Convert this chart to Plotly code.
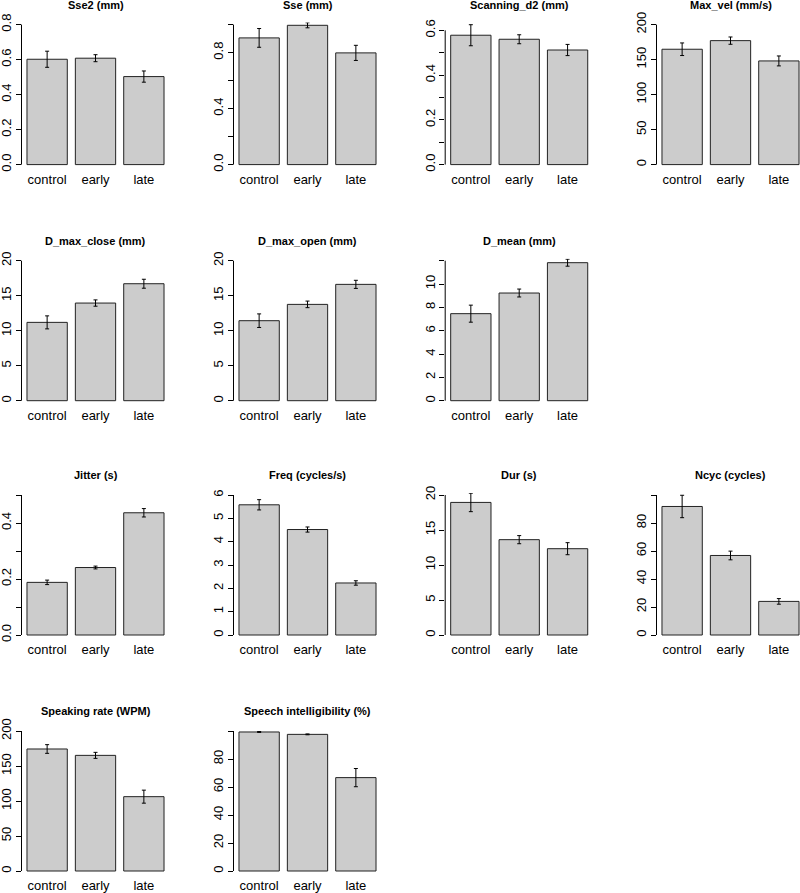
import plotly.graph_objects as go

groups = ["control", "early", "late"]

# --- data (means and standard errors) ---
sse2_mean = [0.602, 0.608, 0.503]
sse2_se = [0.046, 0.020, 0.032]
sse_mean = [0.905, 0.995, 0.798]
sse_se = [0.067, 0.018, 0.054]
scan_mean = [0.578, 0.560, 0.512]
scan_se = [0.047, 0.020, 0.025]
maxvel_mean = [164.8, 177.1, 148.1]
maxvel_se = [9.0, 5.2, 7.1]
dmaxclose_mean = [11.19, 13.95, 16.71]
dmaxclose_se = [0.93, 0.45, 0.64]
dmaxopen_mean = [11.43, 13.76, 16.62]
dmaxopen_se = [0.97, 0.47, 0.58]
dmean_mean = [7.46, 9.23, 11.83]
dmean_se = [0.73, 0.34, 0.30]
jitter_mean = [0.188, 0.241, 0.4365]
jitter_se = [0.008, 0.005, 0.015]
freq_mean = [5.58, 4.52, 2.23]
freq_se = [0.22, 0.11, 0.095]
dur_mean = [18.94, 13.62, 12.33]
dur_se = [1.32, 0.58, 0.86]
ncyc_mean = [91.8, 56.8, 24.0]
ncyc_se = [8.0, 3.1, 2.0]
rate_mean = [174.3, 165.2, 106.2]
rate_se = [6.2, 4.3, 9.3]
intel_mean = [99.3, 97.6, 66.7]
intel_se = [0.3, 0.3, 6.5]

# titles
titles = ["Sse2 (mm)", "Sse (mm)", "Scanning_d2 (mm)", "Max_vel (mm/s)",
          "D_max_close (mm)", "D_max_open (mm)", "D_mean (mm)",
          "Jitter (s)", "Freq (cycles/s)", "Dur (s)", "Ncyc (cycles)",
          "Speaking rate (WPM)", "Speech intelligibility (%)"]
means = [sse2_mean, sse_mean, scan_mean, maxvel_mean,
         dmaxclose_mean, dmaxopen_mean, dmean_mean,
         jitter_mean, freq_mean, dur_mean, ncyc_mean,
         rate_mean, intel_mean]
ses = [sse2_se, sse_se, scan_se, maxvel_se,
       dmaxclose_se, dmaxopen_se, dmean_se,
       jitter_se, freq_se, dur_se, ncyc_se,
       rate_se, intel_se]
# y ticks and which are labelled
yticks = [[0, 0.2, 0.4, 0.6, 0.8], [0, 0.2, 0.4, 0.6, 0.8, 1.0],
          [0, 0.1, 0.2, 0.3, 0.4, 0.5, 0.6], [0, 50, 100, 150, 200],
          [0, 5, 10, 15, 20], [0, 5, 10, 15, 20], [0, 2, 4, 6, 8, 10, 12],
          [0, 0.1, 0.2, 0.3, 0.4, 0.5], [0, 1, 2, 3, 4, 5, 6],
          [0, 5, 10, 15, 20], [0, 20, 40, 60, 80, 100],
          [0, 50, 100, 150, 200], [0, 20, 40, 60, 80, 100]]
ytext = [["0.0", "0.2", "0.4", "0.6", "0.8"], ["0.0", "", "0.4", "", "0.8", ""],
         ["0.0", "", "0.2", "", "0.4", "", "0.6"], ["0", "50", "100", "150", "200"],
         ["0", "5", "10", "15", "20"], ["0", "5", "10", "15", "20"],
         ["0", "2", "4", "6", "8", "10", ""],
         ["0.0", "", "0.2", "", "0.4", ""], ["0", "1", "2", "3", "4", "5", "6"],
         ["0", "5", "10", "15", "20"], ["0", "20", "40", "60", "80", ""],
         ["0", "50", "100", "150", "200"], ["0", "20", "40", "60", "80", ""]]
# upper y limit of each plot region
ylim_top = [0.8, 1.0, 0.6255, 200, 20, 20, 12, 0.5, 6, 20, 100, 200, 100]

# layout (pixels)
W, H = 800, 893
col_left = [21.5, 233.5, 445.2, 656.5]
row_zero = [164.6, 400.7, 635, 871]
panel_pos = [(0, 0), (0, 1), (0, 2), (0, 3),
             (1, 0), (1, 1), (1, 2),
             (2, 0), (2, 1), (2, 2), (2, 3),
             (3, 0), (3, 1)]
PW = 148.0   # plot region width
PH = 140.0   # plot region height
PAD = 2.0
XR = [-0.53, 2.53]

fig = go.Figure()
layout = {}
shapes = []
annotations = []
for i, (r, c) in enumerate(panel_pos):
    n = i + 1
    xs = "" if n == 1 else str(n)
    x0 = col_left[c]
    y0 = row_zero[r]
    s = PH / ylim_top[i]
    x1 = min(x0 + PW, W)
    xr1 = XR[0] + (x1 - x0) / PW * (XR[1] - XR[0])
    fig.add_trace(go.Bar(
        x=groups, y=means[i], xaxis="x" + xs, yaxis="y" + xs,
        marker=dict(color="#cccccc", line=dict(color="#222222", width=1)),
        error_y=dict(type="data", array=ses[i], color="black", thickness=1, width=2),
        showlegend=False, hoverinfo="skip"))
    layout["xaxis" + xs] = dict(
        domain=[x0 / W, x1 / W], anchor="y" + xs, range=[XR[0], xr1],
        showgrid=False, zeroline=False, showline=False, ticks="",
        ticklabelstandoff=3, automargin=False,
        tickfont=dict(size=13, color="black"), fixedrange=True)
    layout["yaxis" + xs] = dict(
        domain=[1 - (y0 + PAD) / H, 1 - (y0 - PH - PAD) / H], anchor="x" + xs,
        range=[-PAD / s, ylim_top[i] + PAD / s], automargin=False,
        showgrid=False, zeroline=False, showline=False,
        ticks="outside", ticklen=5, tickwidth=1, tickcolor="black",
        ticklabelstandoff=-1,
        tickvals=yticks[i], ticktext=ytext[i], tickangle=-90,
        tickfont=dict(size=13, color="black"), fixedrange=True)
    shapes.append(dict(type="line", xref="x" + xs + " domain", yref="y" + xs,
                       x0=0, x1=0, y0=yticks[i][0], y1=yticks[i][-1],
                       line=dict(color="black", width=1)))
    annotations.append(dict(text="<b>" + titles[i] + "</b>", xref="paper", yref="paper",
                            x=(x0 + PW / 2) / W, y=1 - (y0 - PH - 20) / H,
                            xanchor="center", yanchor="middle", showarrow=False,
                            font=dict(size=11, color="black")))

fig.update_layout(**layout)
fig.update_layout(width=W, height=H, margin=dict(l=0, r=0, t=0, b=0, autoexpand=False),
                  paper_bgcolor="white", plot_bgcolor="white",
                  bargap=0.1667, shapes=shapes, annotations=annotations,
                  font=dict(family="Liberation Sans, Arial, sans-serif", color="black"))
page_fix = (
    "var d=document.documentElement,b=document.body;"
    "d.style.margin='0';d.style.padding='0';d.style.overflow='hidden';"
    "b.style.margin='0';b.style.padding='0';b.style.overflow='hidden';"
)
fig.write_html("out.html", config={"displayModeBar": False}, post_script=page_fix)
